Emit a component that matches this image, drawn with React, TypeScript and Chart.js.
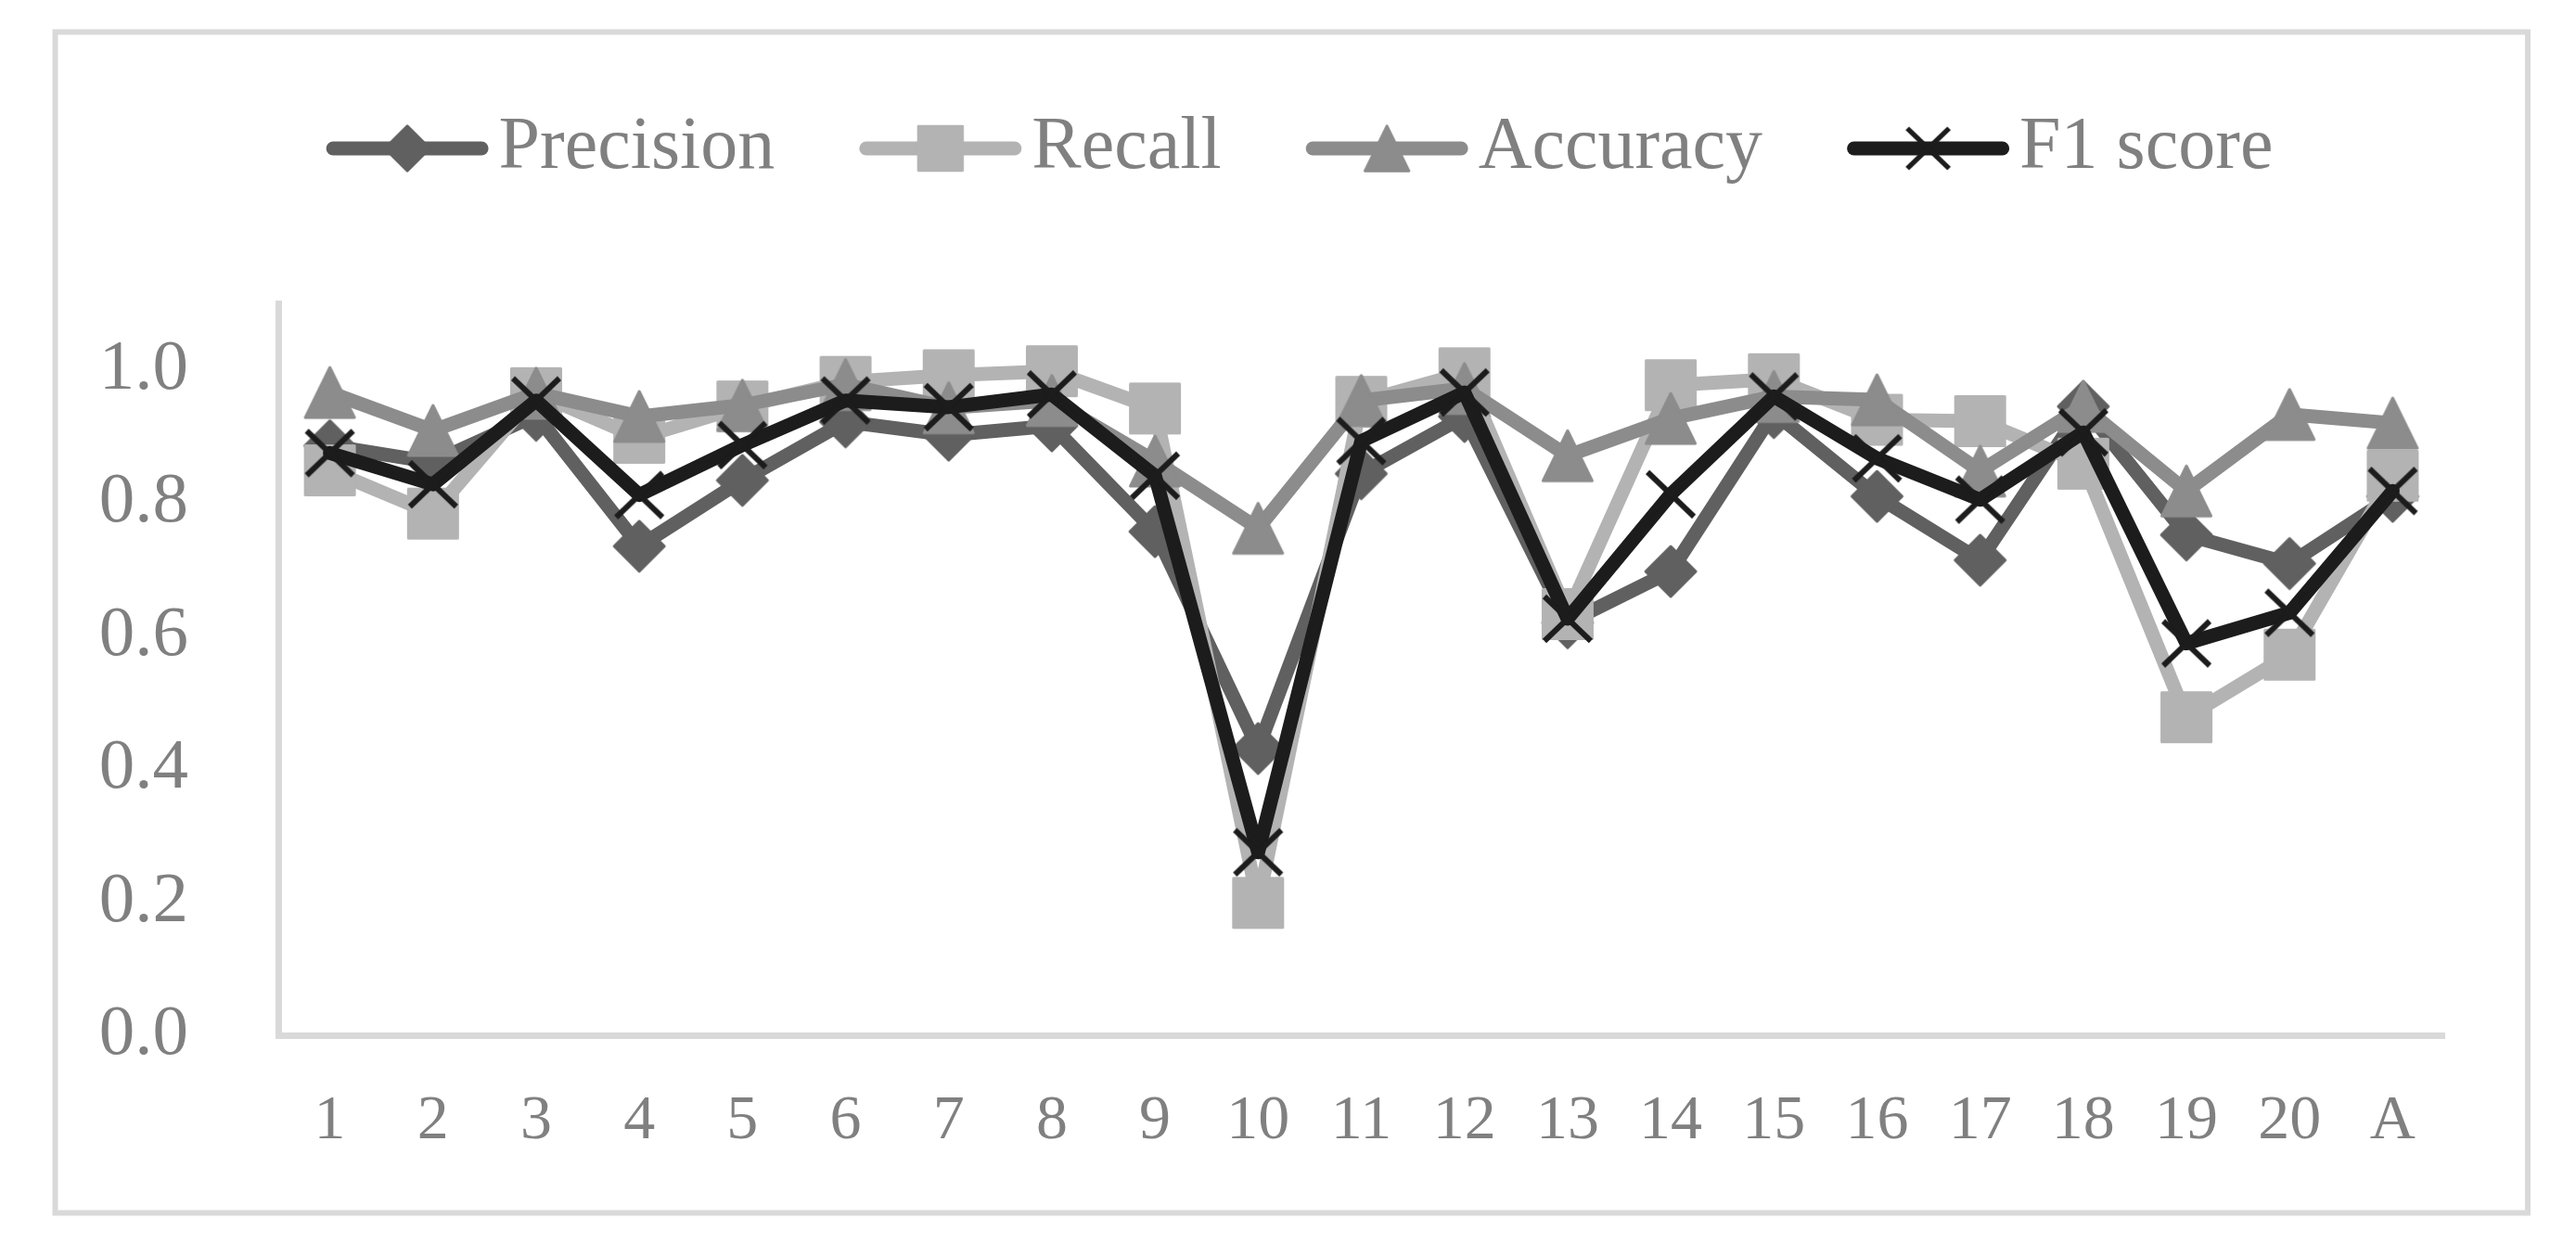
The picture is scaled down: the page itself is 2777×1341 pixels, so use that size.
import React, { useEffect, useRef } from 'react';
import { Chart, registerables } from 'chart.js';

Chart.register(...registerables);

// ---- Data ----
const categories = ['1', '2', '3', '4', '5', '6', '7', '8', '9', '10', '11', '12', '13', '14', '15', '16', '17', '18', '19', '20', 'A'];
const precision = [0.886, 0.861, 0.932, 0.735, 0.834, 0.922, 0.902, 0.916, 0.757, 0.431, 0.844, 0.93, 0.62, 0.697, 0.936, 0.81, 0.714, 0.945, 0.752, 0.709, 0.81];
const recall = [0.849, 0.784, 0.965, 0.898, 0.945, 0.982, 0.992, 0.998, 0.942, 0.199, 0.952, 0.995, 0.633, 0.977, 0.986, 0.925, 0.923, 0.859, 0.478, 0.572, 0.841];
const accuracy = [0.966, 0.909, 0.965, 0.93, 0.947, 0.978, 0.943, 0.954, 0.863, 0.762, 0.954, 0.972, 0.871, 0.927, 0.96, 0.955, 0.848, 0.945, 0.818, 0.933, 0.92];
const f1Score = [0.875, 0.828, 0.954, 0.812, 0.887, 0.954, 0.944, 0.963, 0.841, 0.275, 0.893, 0.966, 0.626, 0.813, 0.96, 0.867, 0.805, 0.906, 0.589, 0.635, 0.818];
const seriesNames = ['Precision', 'Recall', 'Accuracy', 'F1 score'];
const yTickLabels = ['0.0', '0.2', '0.4', '0.6', '0.8', '1.0'];

// ---- Styles ----
const FONT = '"Liberation Serif", "Times New Roman", serif';
const TEXT = '#808080';
const AXIS = '#d9d9d9';
const COLORS = ['#606060', '#b3b3b3', '#8c8c8c', '#1c1c1c'];
const KINDS = ['diamond', 'square', 'triangle', 'cross'];

function makeMarker(kind: string, color: string, s: number): HTMLCanvasElement {
  const c = document.createElement('canvas');
  const size = Math.round(64 * s / 2) * 2;
  c.width = size;
  c.height = size;
  const ctx = c.getContext('2d') as CanvasRenderingContext2D;
  ctx.translate(size / 2, size / 2);
  ctx.fillStyle = color;
  ctx.strokeStyle = color;
  ctx.lineJoin = 'round';
  ctx.lineWidth = 3 * s;
  ctx.beginPath();
  if (kind === 'diamond') {
    const r = 27 * s;
    ctx.moveTo(0, -r);
    ctx.lineTo(r, 0);
    ctx.lineTo(0, r);
    ctx.lineTo(-r, 0);
    ctx.closePath();
    ctx.fill();
    ctx.stroke();
  } else if (kind === 'square') {
    const h = 26.5 * s;
    ctx.rect(-h, -h, 2 * h, 2 * h);
    ctx.fill();
    ctx.stroke();
  } else if (kind === 'triangle') {
    const hw = 26.5 * s;
    const hh = 27 * s;
    ctx.moveTo(0, -hh);
    ctx.lineTo(hw, hh);
    ctx.lineTo(-hw, hh);
    ctx.closePath();
    ctx.fill();
    ctx.stroke();
  } else {
    const hw = 25 * s;
    const hh = 24 * s;
    ctx.lineWidth = 6 * s;
    ctx.lineCap = 'butt';
    ctx.moveTo(-hw, -hh);
    ctx.lineTo(hw, hh);
    ctx.moveTo(hw, -hh);
    ctx.lineTo(-hw, hh);
    ctx.stroke();
  }
  return c;
}

export default function App() {
  const canvasRef = useRef<HTMLCanvasElement | null>(null);

  useEffect(() => {
    const canvas = canvasRef.current;
    if (!canvas) return;

    const seriesValues = [precision, recall, accuracy, f1Score];
    const chartMarkers = KINDS.map((k, i) => makeMarker(k, COLORS[i], 1));
    const legendMarkers = KINDS.map((k, i) => makeMarker(k, COLORS[i], 0.9));

    const framePlugin = {
      id: 'frame',
      beforeDraw(chart: any) {
        const { ctx, width, height } = chart;
        ctx.save();
        ctx.fillStyle = '#ffffff';
        ctx.fillRect(0, 0, width, height);
        ctx.strokeStyle = AXIS;
        ctx.lineWidth = 6;
        ctx.strokeRect(59.5, 34.5, 2665.5, 1273);
        ctx.restore();
      },
    };

    const legendPlugin = {
      id: 'excelLegend',
      afterDraw(chart: any) {
        const ctx = chart.ctx as CanvasRenderingContext2D;
        ctx.save();
        ctx.font = `80px ${FONT}`;
        const lineLen = 175;
        const gapText = 11;
        const gapItem = 91;
        const widths = seriesNames.map((n) => ctx.measureText(n).width);
        const total = widths.reduce((s, w) => s + lineLen + gapText + w, 0) + gapItem * (seriesNames.length - 1);
        let x = 1401 - total / 2;
        const y = 160;
        seriesNames.forEach((name, i) => {
          ctx.strokeStyle = COLORS[i];
          ctx.lineWidth = 15;
          ctx.lineCap = 'round';
          ctx.beginPath();
          ctx.moveTo(x + 7.5, y);
          ctx.lineTo(x + lineLen - 7.5, y);
          ctx.stroke();
          const m = legendMarkers[i];
          ctx.drawImage(m, x + lineLen / 2 - m.width / 2, y - m.height / 2);
          ctx.fillStyle = TEXT;
          ctx.textAlign = 'left';
          ctx.textBaseline = 'alphabetic';
          ctx.fillText(name, x + lineLen + gapText, 181);
          x += lineLen + gapText + widths[i] + gapItem;
        });
        ctx.restore();
      },
    };

    const chart = new Chart(canvas, {
      type: 'line',
      data: {
        labels: categories,
        datasets: seriesNames.map((name, i) => ({
          label: name,
          data: seriesValues[i],
          borderColor: COLORS[i],
          backgroundColor: COLORS[i],
          borderWidth: 15,
          borderJoinStyle: 'round',
          borderCapStyle: 'round',
          tension: 0,
          pointStyle: chartMarkers[i],
          pointRadius: 28,
          pointHoverRadius: 28,
          order: seriesNames.length - i,
          clip: false,
        })) as any,
      },
      options: {
        responsive: false,
        animation: false,
        devicePixelRatio: 1,
        layout: { padding: { top: 327, right: 142, bottom: 0, left: 0 } },
        plugins: {
          legend: { display: false },
          tooltip: { enabled: false },
        },
        scales: {
          x: {
            offset: true,
            grid: { display: false, drawTicks: false },
            border: { display: true, color: AXIS, width: 7 },
            ticks: {
              color: TEXT,
              font: { family: FONT, size: 68 },
              padding: 52,
              maxRotation: 0,
              autoSkip: false,
            },
            afterFit: (scale: any) => {
              scale.height = 225;
            },
          },
          y: {
            min: 0,
            max: 1.1,
            grid: { display: false, drawTicks: false },
            border: { display: true, color: AXIS, width: 7 },
            afterBuildTicks: (scale: any) => {
              scale.ticks = yTickLabels.map((t) => ({ value: parseFloat(t) }));
            },
            ticks: {
              color: TEXT,
              font: { family: FONT, size: 77 },
              padding: 97,
              callback: (v: any) => {
                const lbl = yTickLabels.find((t) => Math.abs(parseFloat(t) - Number(v)) < 1e-6);
                return lbl ?? '';
              },
            },
            afterFit: (scale: any) => {
              scale.width = 300;
            },
          },
        },
      },
      plugins: [framePlugin, legendPlugin],
    });

    return () => chart.destroy();
  }, []);

  return (
    <canvas
      ref={canvasRef}
      width={2777}
      height={1341}
      style={{ position: 'absolute', left: 0, top: 0, display: 'block' }}
    />
  );
}
